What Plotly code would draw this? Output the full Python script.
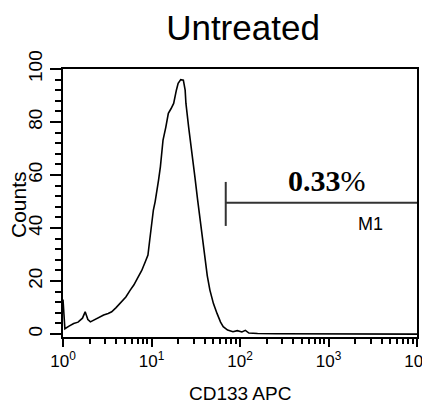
import plotly.graph_objects as go

# Histogram (CD133 APC intensity vs counts)
intensity = [1.0, 1.05, 1.17, 1.32, 1.48, 1.66, 1.78, 1.91, 2.04, 2.29, 2.57, 2.88,
             3.24, 3.55, 3.98, 4.57, 5.13, 5.75, 6.31, 7.08, 7.76, 8.51, 9.12, 9.55,
             10.0, 10.5, 11.0, 11.5, 12.0, 12.6, 13.2, 13.5, 14.5, 15.5, 16.6, 17.8,
             19.1, 20.0, 21.4, 22.9, 24.0, 24.5, 26.3, 28.2, 30.9, 33.1, 35.5, 38.0,
             39.8, 42.7, 45.7, 50.1, 55.0, 60.3, 64.6, 72.4, 83.2, 93.3, 105, 115,
             126, 158, 251, 1000, 10000]
counts = [13, 2, 3, 4, 4.5, 6, 8.4, 5.5, 4.6, 5.5, 6.5, 7.2,
          7.8, 8.4, 10, 12.2, 14, 16.6, 18.5, 21.6, 24, 27.3, 29.8, 35.5,
          41, 46.8, 50, 53.7, 58, 63.1, 70, 73.2, 78, 83.3, 85, 87,
          92, 94.6, 96, 95.8, 92, 87, 78, 70.7, 59.4, 51, 43, 35,
          28, 22, 16.6, 11.5, 7.8, 4.5, 2.8, 1.5, 0.9, 1.3, 0.8, 1.4,
          0.4, 0.2, 0.1, 0, 0]

# Marker gate M1
gate_x = [69, 10000]
gate_y = [49.5, 49.5]
gate_tick_x = [69, 69]
gate_tick_y = [40.8, 57.4]
gate_label = "M1"
gate_percent = "0.33"

x_tickvals = [1, 10, 100, 1000, 10000]
x_ticktext = ["10<sup>0</sup>", "10<sup>1</sup>", "10<sup>2</sup>", "10<sup>3</sup>", "10<sup>4</sup>"]
x_minor_vals = [m * d for d in [1, 10, 100, 1000] for m in range(2, 10)]
y_tickvals = [0, 20, 40, 60, 80, 100]

# page body adds an 8px offset; figure is sized to fit the window
OFF = 8
W, H = 430 - OFF, 408 - OFF
L, R, T, B = 63 - OFF, 13, 69 - OFF, 71
PW, PH = W - L - R, H - T - B

fig = go.Figure()
fig.add_trace(go.Scatter(x=intensity, y=counts, mode="lines",
                         line=dict(color="black", width=1.6), showlegend=False,
                         hoverinfo="skip"))
fig.add_trace(go.Scatter(x=gate_x, y=gate_y, mode="lines",
                         line=dict(color="#333333", width=2), showlegend=False))
fig.add_trace(go.Scatter(x=gate_tick_x, y=gate_tick_y, mode="lines",
                         line=dict(color="#333333", width=2), showlegend=False))

fig.update_layout(
    width=W, height=H,
    margin=dict(l=L, r=R, t=T, b=B, autoexpand=False),
    paper_bgcolor="white", plot_bgcolor="white",
    font=dict(family="Liberation Sans, Arial, sans-serif", color="black"),
    title=dict(text="Untreated", x=(243 - OFF) / W, xanchor="center", y=1 - (28 - OFF) / H,
               yanchor="middle", font=dict(size=35, color="black")),
    xaxis=dict(type="log", range=[0, 4], tickmode="array", tickvals=x_tickvals,
               ticktext=x_ticktext, ticks="outside", ticklen=8, tickwidth=2,
               tickcolor="black", showgrid=False, zeroline=False, automargin=False,
               ticklabeloverflow="allow",
               showline=True, linecolor="black", linewidth=2, mirror=True,
               tickfont=dict(size=17),
               minor=dict(tickmode="array", tickvals=x_minor_vals, ticks="outside",
                          ticklen=5, tickwidth=1.5, tickcolor="black", showgrid=False)),
    yaxis=dict(range=[-1.1, 100], tickmode="array", tickvals=y_tickvals,
               ticks="outside", ticklen=11, tickwidth=2, tickcolor="black",
               tickangle=-90, showgrid=False, zeroline=False, automargin=False,
               ticklabeloverflow="allow",
               showline=True, linecolor="black", linewidth=2, mirror=True,
               tickfont=dict(size=19),
               minor=dict(dtick=4, tick0=0, ticks="outside", ticklen=6,
                          tickwidth=1.5, tickcolor="black", showgrid=False)),
    annotations=[
        dict(text="CD133 APC", xref="paper", yref="paper", x=(240 - 63) / PW, y=(337 - 393) / PH,
             xanchor="center", yanchor="middle", showarrow=False,
             font=dict(size=19)),
        dict(text="Counts", xref="paper", yref="paper", x=(18 - 63) / PW, y=(337 - 205) / PH,
             xanchor="center", yanchor="middle", textangle=-90, showarrow=False,
             font=dict(size=21)),
        dict(text="<b>" + gate_percent + "</b>%", xref="paper", yref="paper",
             x=(327 - 63) / PW, y=(337 - 180) / PH, xanchor="center", yanchor="middle",
             showarrow=False, font=dict(size=30, family="Liberation Serif, Times New Roman, serif")),
        dict(text=gate_label, xref="paper", yref="paper",
             x=(370 - 63) / PW, y=(337 - 224) / PH, xanchor="center", yanchor="middle",
             showarrow=False, font=dict(size=18)),
    ],
)

fig.write_html("out.html")
